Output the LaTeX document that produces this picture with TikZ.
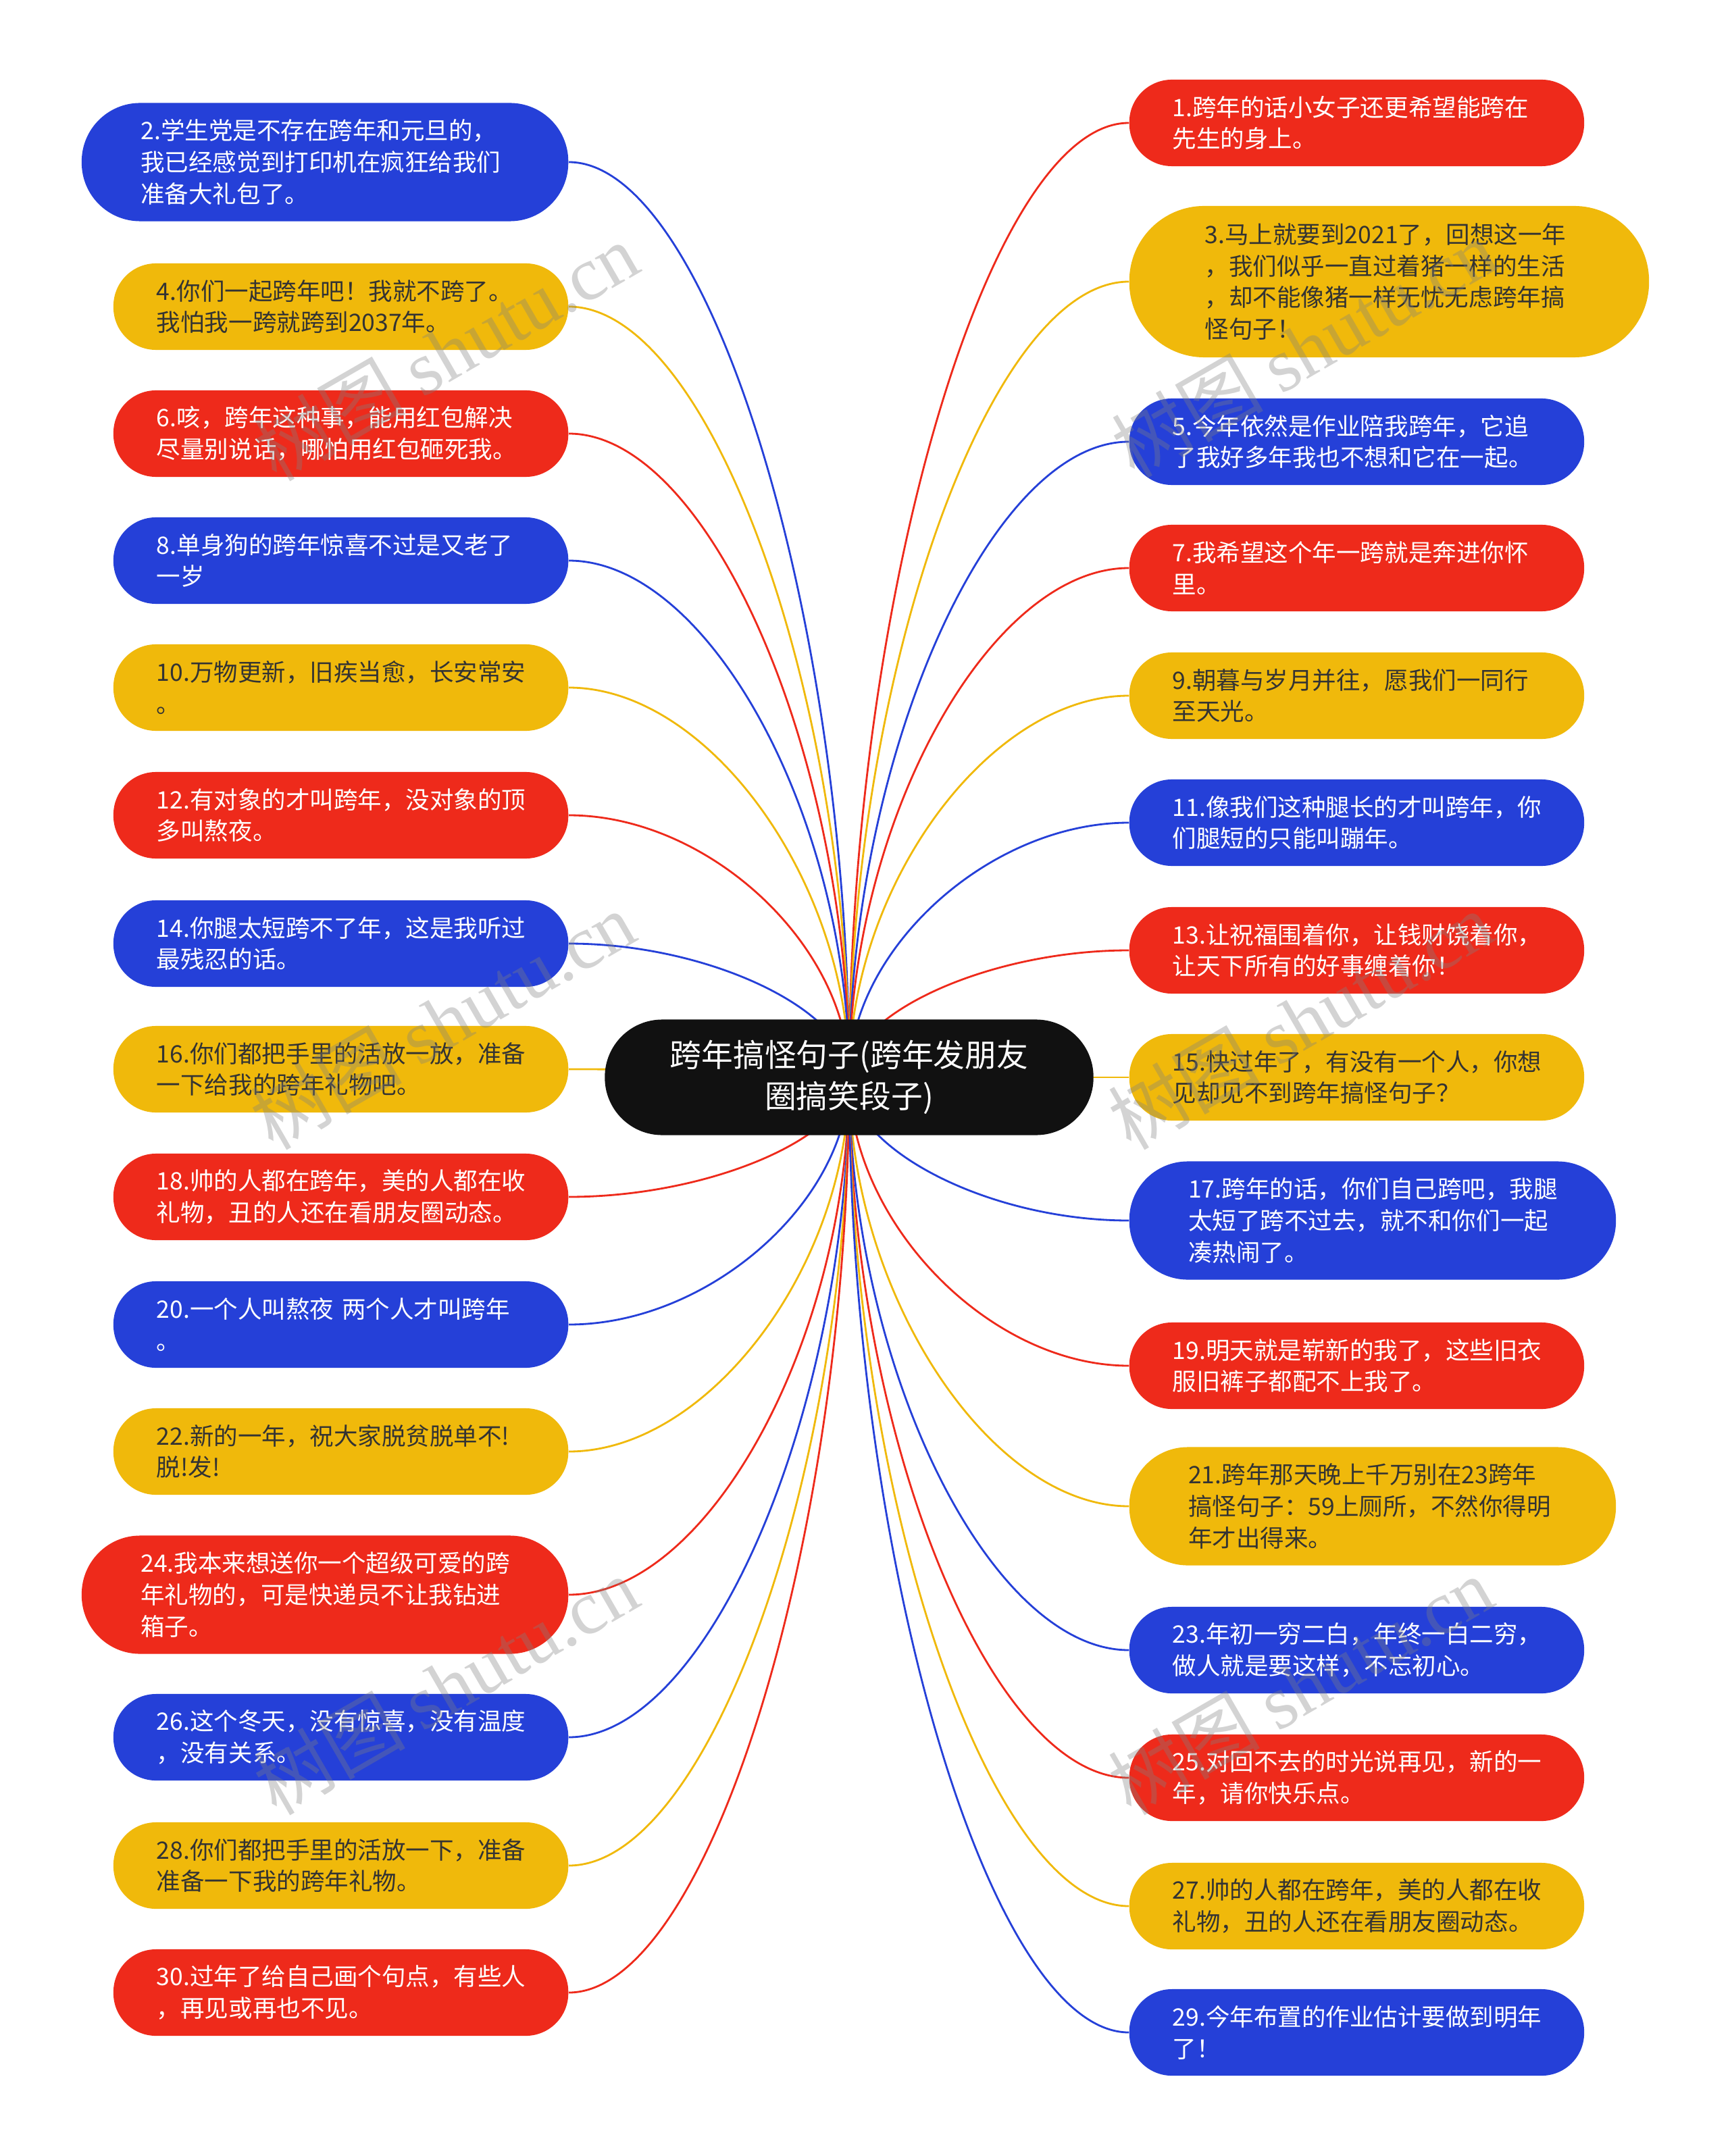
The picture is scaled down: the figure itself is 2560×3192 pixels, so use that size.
\documentclass[tikz,border=0pt]{standalone}
\usepackage{fontspec}
\setmainfont{Noto Sans CJK SC}
\newfontfamily\wmlatin{Liberation Serif}
\usepackage{tikz}
\usetikzlibrary{calc, backgrounds}

\definecolor{mred}{HTML}{EE2A1B}
\definecolor{myellow}{HTML}{F0B90B}
\definecolor{mblue}{HTML}{2540D8}
\definecolor{mdark}{HTML}{333333}
\definecolor{mroot}{HTML}{111111}

\begin{document}
\begin{tikzpicture}[
  x=0.01cm, y=-0.01cm,
  every node/.style={font=\fontsize{10.1pt}{13.3pt}\selectfont},
  leaf/.style={rectangle, text width=5.45cm, align=left, inner ysep=0pt},
  two/.style={leaf, minimum height=1.28cm, inner xsep=0.64cm, rounded corners=0.63cm},
  three/.style={leaf, minimum height=1.75cm, inner xsep=0.875cm, rounded corners=0.865cm},
  four/.style={leaf, minimum height=2.24cm, inner xsep=1.12cm, rounded corners=1.11cm},
  redleaf/.style={fill=mred, text=white},
  yellowleaf/.style={fill=myellow, text=mdark},
  blueleaf/.style={fill=mblue, text=white},
  link/.style={line width=0.8pt},
  wmark/.style={rotate=30, text=gray, opacity=0.35, font=\fontsize{32pt}{32pt}\selectfont}
]
  \useasboundingbox (0,0) rectangle (2560,3192);

  % centre
  \node[fill=mroot, text=white, rounded corners=0.85cm, minimum width=7.23cm,
        minimum height=1.71cm, align=center, font=\fontsize{13.3pt}{17.4pt}\selectfont]
        (root) at (1257,1595) {跨年搞怪句子(跨年发朋友\\圈搞笑段子)};

  % left column
  \node[three, blueleaf,   anchor=east] (q2)  at (842,240)  {2.学生党是不存在跨年和元旦的，\\我已经感觉到打印机在疯狂给我们\\准备大礼包了。};
  \node[two,   yellowleaf, anchor=east] (q4)  at (842,454)  {4.你们一起跨年吧！我就不跨了。\\我怕我一跨就跨到2037年。};
  \node[two,   redleaf,    anchor=east] (q6)  at (842,642)  {6.咳，跨年这种事，能用红包解决\\尽量别说话，哪怕用红包砸死我。};
  \node[two,   blueleaf,   anchor=east] (q8)  at (842,830)  {8.单身狗的跨年惊喜不过是又老了\\一岁};
  \node[two,   yellowleaf, anchor=east] (q10) at (842,1018) {10.万物更新，旧疾当愈，长安常安\\。};
  \node[two,   redleaf,    anchor=east] (q12) at (842,1207) {12.有对象的才叫跨年，没对象的顶\\多叫熬夜。};
  \node[two,   blueleaf,   anchor=east] (q14) at (842,1397) {14.你腿太短跨不了年，这是我听过\\最残忍的话。};
  \node[two,   yellowleaf, anchor=east] (q16) at (842,1583) {16.你们都把手里的活放一放，准备\\一下给我的跨年礼物吧。};
  \node[two,   redleaf,    anchor=east] (q18) at (842,1772) {18.帅的人都在跨年，美的人都在收\\礼物，丑的人还在看朋友圈动态。};
  \node[two,   blueleaf,   anchor=east] (q20) at (842,1961) {20.一个人叫熬夜 两个人才叫跨年\\。};
  \node[two,   yellowleaf, anchor=east] (q22) at (842,2149) {22.新的一年，祝大家脱贫脱单不!\\脱!发!};
  \node[three, redleaf,    anchor=east] (q24) at (842,2361) {24.我本来想送你一个超级可爱的跨\\年礼物的，可是快递员不让我钻进\\箱子。};
  \node[two,   blueleaf,   anchor=east] (q26) at (842,2572) {26.这个冬天，没有惊喜，没有温度\\，没有关系。};
  \node[two,   yellowleaf, anchor=east] (q28) at (842,2762) {28.你们都把手里的活放一下，准备\\准备一下我的跨年礼物。};
  \node[two,   redleaf,    anchor=east] (q30) at (842,2950) {30.过年了给自己画个句点，有些人\\，再见或再也不见。};

  % right column
  \node[two,   redleaf,    anchor=west] (q1)  at (1671,182)  {1.跨年的话小女子还更希望能跨在\\先生的身上。};
  \node[four,  yellowleaf, anchor=west] (q3)  at (1671,417)  {3.马上就要到2021了，回想这一年\\，我们似乎一直过着猪一样的生活\\，却不能像猪一样无忧无虑跨年搞\\怪句子！};
  \node[two,   blueleaf,   anchor=west] (q5)  at (1671,654)  {5.今年依然是作业陪我跨年，它追\\了我好多年我也不想和它在一起。};
  \node[two,   redleaf,    anchor=west] (q7)  at (1671,841)  {7.我希望这个年一跨就是奔进你怀\\里。};
  \node[two,   yellowleaf, anchor=west] (q9)  at (1671,1030) {9.朝暮与岁月并往，愿我们一同行\\至天光。};
  \node[two,   blueleaf,   anchor=west] (q11) at (1671,1218) {11.像我们这种腿长的才叫跨年，你\\们腿短的只能叫蹦年。};
  \node[two,   redleaf,    anchor=west] (q13) at (1671,1407) {13.让祝福围着你，让钱财饶着你，\\让天下所有的好事缠着你！};
  \node[two,   yellowleaf, anchor=west] (q15) at (1671,1595) {15.快过年了，有没有一个人，你想\\见却见不到跨年搞怪句子？};
  \node[three, blueleaf,   anchor=west] (q17) at (1671,1807) {17.跨年的话，你们自己跨吧，我腿\\太短了跨不过去，就不和你们一起\\凑热闹了。};
  \node[two,   redleaf,    anchor=west] (q19) at (1671,2022) {19.明天就是崭新的我了，这些旧衣\\服旧裤子都配不上我了。};
  \node[three, yellowleaf, anchor=west] (q21) at (1671,2230) {21.跨年那天晚上千万别在23跨年\\搞怪句子：59上厕所，不然你得明\\年才出得来。};
  \node[two,   blueleaf,   anchor=west] (q23) at (1671,2443) {23.年初一穷二白，年终一白二穷，\\做人就是要这样，不忘初心。};
  \node[two,   redleaf,    anchor=west] (q25) at (1671,2632) {25.对回不去的时光说再见，新的一\\年，请你快乐点。};
  \node[two,   yellowleaf, anchor=west] (q27) at (1671,2822) {27.帅的人都在跨年，美的人都在收\\礼物，丑的人还在看朋友圈动态。};
  \node[two,   blueleaf,   anchor=west] (q29) at (1671,3009) {29.今年布置的作业估计要做到明年\\了！};

  % connectors, behind the nodes
  \begin{pgfonlayer}{background}
    \foreach \q/\a/\c in {q2/east/mblue, q4/east/myellow, q6/east/mred, q8/east/mblue,
        q10/east/myellow, q12/east/mred, q14/east/mblue, q16/east/myellow, q18/east/mred,
        q20/east/mblue, q22/east/myellow, q24/east/mred, q26/east/mblue, q28/east/myellow,
        q30/east/mred, q1/west/mred, q3/west/myellow, q5/west/mblue, q7/west/mred,
        q9/west/myellow, q11/west/mblue, q13/west/mred, q15/west/myellow, q17/west/mblue,
        q19/west/mred, q21/west/myellow, q23/west/mblue, q25/west/mred, q27/west/myellow,
        q29/west/mblue}
      \draw[link, \c] let \p1=(\q.\a), \p2=(root.center) in
        (\p1) .. controls ({(\x1+\x2)/2},\y1) and (\x2,{(\y1+\y2)/2}) .. (\p2);
  \end{pgfonlayer}

  % watermarks
  \node[wmark] (wm1) at (660,520)   {树图 {\wmlatin shutu.cn}};
  \node[wmark] (wm2) at (1930,515)  {树图 {\wmlatin shutu.cn}};
  \node[wmark] (wm3) at (655,1510)  {树图 {\wmlatin shutu.cn}};
  \node[wmark] (wm4) at (1925,1510) {树图 {\wmlatin shutu.cn}};
  \node[wmark] (wm5) at (660,2495)  {树图 {\wmlatin shutu.cn}};
  \node[wmark] (wm6) at (1925,2495) {树图 {\wmlatin shutu.cn}};
\end{tikzpicture}
\end{document}
